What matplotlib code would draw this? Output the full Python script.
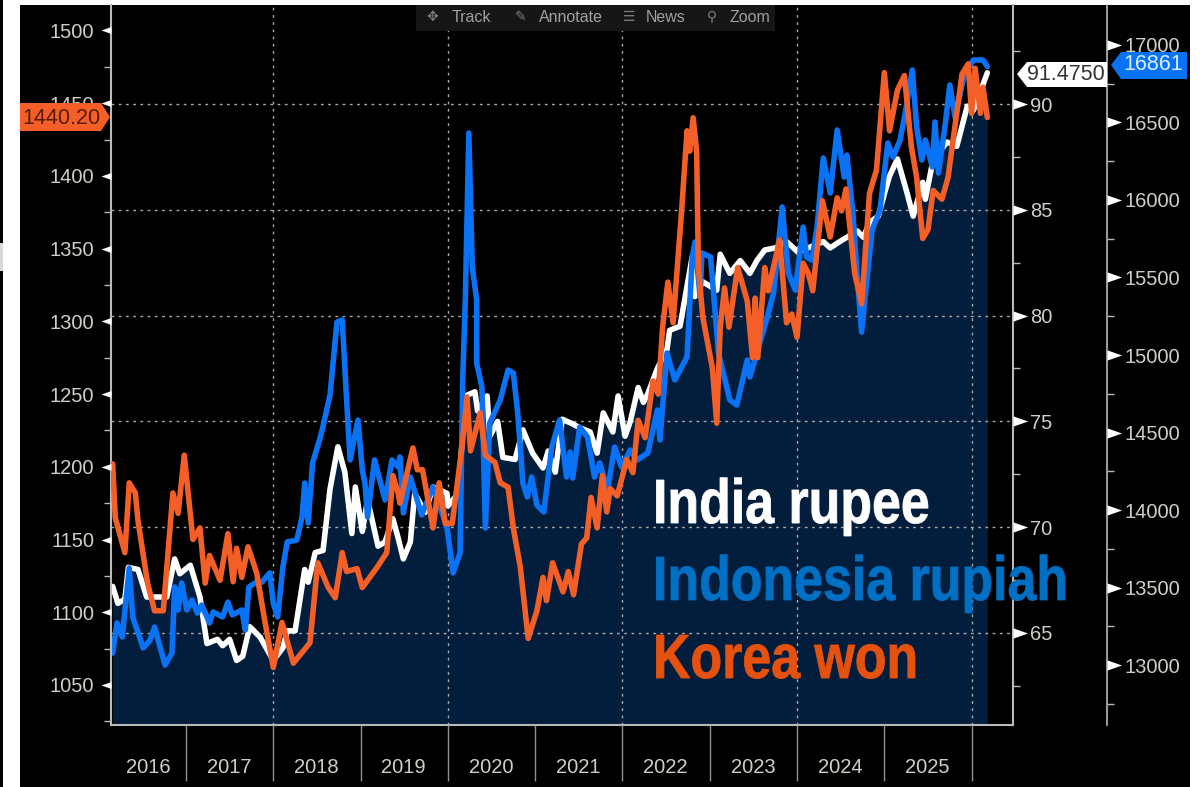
import numpy as np
import matplotlib
matplotlib.use("Agg")
import matplotlib.pyplot as plt
from matplotlib.patches import Polygon, Rectangle
from matplotlib.path import Path
from matplotlib.patheffects import AbstractPathEffect
from matplotlib.text import Text
from matplotlib.transforms import Affine2D, Bbox, blended_transform_factory

BASE_YEAR = 2016
korea_t = [.16,.19,.30,.35,.42,.45,.56,.64,.74,.85,.91,.98,1.08,1.16,1.22,1.27,1.39,1.48,1.54,1.58,1.64,1.71,1.81,1.90,2.00,2.10,2.23,2.42,2.51,2.63,2.71,2.79,2.84,2.96,3.02,3.19,3.30,3.37,3.43,3.45,3.60,3.65,3.71,3.83,3.90,3.97,4.05,4.16,4.22,4.26,4.37,4.43,4.54,4.60,4.69,4.75,4.83,4.92,5.02,5.09,5.13,5.20,5.32,5.38,5.44,5.53,5.59,5.64,5.71,5.77,5.82,5.86,5.94,6.05,6.12,6.18,6.26,6.35,6.41,6.46,6.52,6.58,6.68,6.74,6.77,6.81,6.85,6.87,6.92,7.03,7.08,7.12,7.17,7.22,7.32,7.43,7.49,7.52,7.55,7.63,7.67,7.80,7.88,7.94,8.00,8.07,8.13,8.18,8.29,8.38,8.46,8.51,8.56,8.66,8.74,8.83,8.91,9.00,9.06,9.15,9.23,9.31,9.37,9.44,9.50,9.56,9.66,9.73,9.89,9.96,10.00,10.04,10.10,10.13,10.18]
korea_won = [1202,1165,1141,1189,1182,1163,1120,1101,1101,1182,1168,1208,1150,1158,1120,1139,1122,1154,1121,1144,1124,1145,1127,1095,1062,1093,1065,1079,1134,1117,1110,1141,1128,1130,1117,1131,1141,1194,1182,1175,1213,1198,1198,1158,1189,1161,1161,1213,1248,1211,1237,1208,1203,1189,1186,1158,1131,1082,1101,1124,1108,1134,1114,1128,1112,1147,1151,1179,1158,1194,1169,1185,1180,1205,1196,1232,1220,1259,1250,1296,1327,1299,1378,1431,1417,1440,1417,1337,1303,1268,1230,1296,1323,1296,1337,1314,1275,1316,1275,1337,1321,1356,1299,1305,1289,1340,1333,1321,1383,1358,1385,1376,1391,1333,1312,1388,1404,1471,1431,1459,1469,1420,1399,1357,1363,1390,1384,1399,1470,1477,1443,1474,1443,1461,1440.2]

indo_t = [.16,.21,.27,.35,.39,.51,.59,.64,.69,.76,.84,.87,.91,.95,1.01,1.07,1.13,1.18,1.27,1.31,1.42,1.48,1.53,1.64,1.68,1.72,1.79,1.87,1.96,2.00,2.05,2.11,2.16,2.27,2.33,2.36,2.40,2.45,2.53,2.56,2.65,2.73,2.79,2.84,2.88,2.97,3.02,3.05,3.08,3.16,3.28,3.36,3.43,3.45,3.49,3.57,3.70,3.83,3.99,4.06,4.14,4.17,4.20,4.24,4.28,4.33,4.33,4.39,4.43,4.48,4.60,4.69,4.75,4.80,4.86,4.91,4.96,5.02,5.10,5.19,5.28,5.36,5.40,5.43,5.51,5.60,5.68,5.74,5.83,5.91,5.99,6.09,6.17,6.29,6.40,6.43,6.51,6.60,6.74,6.80,6.83,6.89,6.91,7.01,7.10,7.23,7.31,7.43,7.46,7.66,7.73,7.83,7.90,7.98,8.07,8.11,8.17,8.23,8.30,8.38,8.46,8.54,8.57,8.64,8.69,8.74,8.80,8.86,8.95,9.04,9.10,9.18,9.24,9.32,9.37,9.43,9.47,9.55,9.58,9.62,9.70,9.75,9.81,9.92,10.02,10.13,10.18]
indonesia_rupiah = [13077,13271,13181,13626,13310,13110,13161,13245,13142,13000,13077,13503,13355,13529,13355,13419,13335,13387,13271,13342,13310,13406,13323,13355,13226,13503,13529,13535,13594,13400,13310,13632,13794,13806,13955,14174,13916,14303,14452,14516,14742,15213,15226,14710,14323,14580,14258,14174,13955,14323,14065,14323,14277,14342,13981,14213,13968,14148,13890,13594,13723,14839,15355,16432,15568,15355,14948,14794,13884,14561,14710,14903,14884,14626,14174,14084,14213,14032,13987,14406,14581,14213,14374,14206,14535,14471,14213,14303,14129,14406,14277,14387,14323,14368,14645,14452,15013,14839,14987,15632,15729,15374,15658,15632,15013,14710,14677,14968,14858,15245,15400,15955,15529,15419,15826,15632,15613,15826,16271,16045,16452,16148,16290,15916,15503,15148,15484,15806,15935,16368,16277,16387,16561,16839,16471,16258,16387,16213,16503,16174,16497,16742,16535,16819,16903,16903,16861]

india_t = [.16,.22,.30,.34,.45,.55,.78,.87,.93,1.05,1.16,1.24,1.36,1.42,1.50,1.58,1.65,1.73,1.85,2.00,2.11,2.16,2.25,2.36,2.40,2.48,2.57,2.65,2.74,2.82,2.90,2.94,3.02,3.08,3.20,3.28,3.37,3.43,3.49,3.57,3.62,3.74,3.83,3.99,4.00,4.12,4.20,4.31,4.34,4.45,4.48,4.57,4.63,4.77,4.86,4.97,5.09,5.15,5.23,5.31,5.42,5.51,5.63,5.71,5.78,5.89,5.95,6.03,6.09,6.18,6.24,6.29,6.40,6.51,6.54,6.66,6.74,6.80,6.83,6.92,7.08,7.12,7.23,7.35,7.46,7.54,7.63,7.75,7.88,8.01,8.30,8.38,8.49,8.69,8.76,8.83,8.93,9.01,9.06,9.15,9.26,9.33,9.44,9.47,9.56,9.72,9.83,9.95,10.02,10.18]
india_rupee = [67.2,66.4,66.6,68.1,68.0,66.7,66.7,68.5,67.8,68.2,66.7,64.5,64.7,64.4,64.7,63.7,63.9,65.3,64.8,63.7,64.3,65.1,65.1,68.0,67.4,68.8,68.9,71.8,73.8,72.6,69.7,71.9,69.8,71.3,69.1,69.3,70.4,69.5,68.5,69.3,71.6,70.7,71.9,71.6,71.0,71.6,76.2,76.4,75.5,76.2,74.3,75.0,73.3,73.2,74.6,73.5,72.8,73.6,72.6,75.1,74.9,74.7,74.5,73.5,75.4,74.5,76.2,74.3,75.0,76.6,75.9,76.3,77.5,78.4,79.3,79.5,81.4,82.8,80.9,81.6,81.2,82.9,82.0,82.6,82.0,82.6,83.1,83.2,83.5,83.0,83.5,83.2,83.5,84.0,83.7,84.4,84.7,85.9,86.6,87.4,85.8,84.7,86.3,85.5,87.4,88.2,88.0,89.9,89.7,91.475]

year_labels = ["2016","2017","2018","2019","2020","2021","2022","2023","2024","2025"]
year_bounds = [2017,2018,2019,2020,2021,2022,2023,2024,2025,2026]
left_ticks = [1050,1100,1150,1200,1250,1300,1350,1400,1450,1500]
left_minor = [1025,1075,1125,1175,1225,1275,1325,1375,1425,1475]
mid_ticks = [65,70,75,80,85,90]
mid_minor = [62.5,67.5,72.5,77.5,82.5,87.5,92.5]
right_ticks = [13000,13500,14000,14500,15000,15500,16000,16500,17000]
right_minor = [12750,13250,13750,14250,14750,15250,15750,16250,16750]
toolbar_items = [("\u2725","Track"),("\u270e","Annotate"),("\u2630","News"),("\u26b2","Zoom")]
series_names = ["India rupee","Indonesia rupiah","Korea won"]

W, H = 1200, 787
plt.rcParams["font.family"] = ["Liberation Sans", "DejaVu Sans"]
fig = plt.figure(figsize=(W/100, H/100), dpi=100, facecolor="white")

bg = fig.add_axes([0,0,1,1], zorder=0); bg.set_axis_off()
bg.set_xlim(0,W); bg.set_ylim(H,0)
bg.add_patch(Rectangle((20,5),1170,782,fc="black",ec="none"))
bg.add_patch(Rectangle((0,0),3,787,fc="black",ec="none"))
bg.add_patch(Rectangle((0,243),3,28,fc="#d8d8d8",ec="none"))

rect = [111/W, 1-725/H, (1013-111)/W, 720/H]
SPINE = "#b9b9b9"; TXT = "#cfcfc7"; NAVY = "#031d3c"
ax_india = fig.add_axes(rect, zorder=1, facecolor="black")
ax_indo = fig.add_axes(rect, zorder=2, facecolor="none")
ax_korea = fig.add_axes(rect, zorder=3, facecolor="none")

xlim = (2016.141, 2026.474)
for a in (ax_india, ax_indo, ax_korea):
    a.set_xlim(*xlim)
    for s in a.spines.values():
        s.set_visible(False)
    a.set_xticks([])
ax_korea.set_ylim(1022.5, 1517.5)
ax_india.set_ylim(60.65, 94.68)
ax_indo.set_ylim(12613, 17258)

t_ind = BASE_YEAR + np.array(india_t)
v_ind = np.array(india_rupee)
ax_india.fill_between(t_ind, 60, np.minimum(v_ind, 89.6), color=NAVY, lw=0, zorder=1)
ax_india.set_axisbelow(False)
for v in mid_ticks:
    ax_india.axhline(v, color="#a8a8a8", lw=1, ls=(0,(2,3.2)), zorder=2)
for y in [2018,2020,2022,2024,2026]:
    ax_india.axvline(y, color="#a8a8a8", lw=1, ls=(0,(2,3.2)), zorder=2)

kw = dict(lw=4.0, solid_joinstyle="round", solid_capstyle="round")
ax_india.plot(t_ind, v_ind, color="#ffffff", zorder=3, **kw)
ax_indo.plot(BASE_YEAR+np.array(indo_t), indonesia_rupiah, color="#0a73f5", zorder=3, **kw)
ax_korea.plot(BASE_YEAR+np.array(korea_t), korea_won, color="#f45f27", zorder=3, **kw)

for a, side, w in [(ax_korea,"left",1.5),(ax_india,"bottom",1.5),(ax_india,"right",1.5),(ax_indo,"right",1.2)]:
    a.spines[side].set_visible(True); a.spines[side].set_color(SPINE); a.spines[side].set_linewidth(w)
ax_indo.spines["right"].set_position(("outward", 94*72/100))

LS = 14.5
ax_korea.yaxis.tick_left()
ax_korea.set_yticks(left_ticks); ax_korea.set_yticks(left_minor, minor=True)
ax_korea.tick_params(axis="y", which="major", length=10*.72, width=0, pad=5, labelsize=LS, labelcolor=TXT)
ax_korea.tick_params(axis="y", which="minor", length=5, width=1, color=SPINE)

ax_india.yaxis.tick_right()
ax_india.set_yticks(mid_ticks); ax_india.set_yticks(mid_minor, minor=True)
ax_india.tick_params(axis="y", which="major", length=15*.72, width=0, pad=1.5, labelsize=LS, labelcolor=TXT)
ax_india.tick_params(axis="y", which="minor", length=5, width=1, color=SPINE)

ax_indo.yaxis.tick_right()
ax_indo.set_yticks(right_ticks); ax_indo.set_yticks(right_minor, minor=True)
ax_indo.tick_params(axis="y", which="major", length=15*.72, width=0, pad=1.5, labelsize=LS, labelcolor=TXT)
ax_indo.tick_params(axis="y", which="minor", length=5, width=1, color=SPINE)

left_head = Path([(-10,0),(0,3.5),(0,-3.5),(-10,0)], closed=True)
right_head = Path([(10,0),(0,3.5),(0,-3.5),(10,0)], closed=True)
tr = blended_transform_factory(ax_korea.transAxes, ax_korea.transData)
ax_korea.plot(np.zeros(len(left_ticks)), left_ticks, ls="", marker=left_head, ms=14.4, mfc="white", mec="none", transform=tr, clip_on=False, zorder=6)
tr = blended_transform_factory(ax_india.transAxes, ax_india.transData)
ax_india.plot(np.ones(len(mid_ticks)), mid_ticks, ls="", marker=right_head, ms=21, mfc="white", mec="none", transform=tr, clip_on=False, zorder=6)
tr = blended_transform_factory(ax_indo.transAxes, ax_indo.transData)
ax_indo.plot(np.ones(len(right_ticks))*(1013-111+94)/902, right_ticks, ls="", marker=right_head, ms=21, mfc="white", mec="none", transform=tr, clip_on=False, zorder=6)

ax_india.set_xticks(year_bounds, [""]*len(year_bounds))
ax_india.tick_params(axis="x", length=40, width=1, color="#8f8f8f", pad=0)
edges = [xlim[0]] + year_bounds
for i, lab in enumerate(year_labels):
    ax_india.annotate(lab, xy=((edges[i]+edges[i+1])/2 - 0.005, 0), xycoords=("data","axes fraction"),
                      xytext=(0,-42.5*.72), textcoords="offset points", ha="center", va="center",
                      color=TXT, fontsize=LS)

ov = fig.add_axes([0,0,1,1], zorder=10, facecolor="none"); ov.set_axis_off()
ov.set_xlim(0,W); ov.set_ylim(H,0)

ov.add_patch(Polygon([(20,103),(101,103),(110,117),(101,131),(20,131)], fc="#f45f27", ec="none"))
ov.text(61, 118, "1440.20", ha="center", va="center", color="#5a1a05", fontsize=15.5)
ov.add_patch(Polygon([(1017,74),(1027,62),(1107,62),(1107,87),(1027,87)], fc="white", ec="none"))
ov.text(1066, 75, "91.4750", ha="center", va="center", color="#333333", fontsize=15.5)
ov.add_patch(Polygon([(1111,65),(1121,52),(1187,52),(1187,79),(1121,79)], fc="#0a73f5", ec="none"))
ov.text(1153, 65, "16861", ha="center", va="center", color="#d9ecff", fontsize=15.5)

ov.add_patch(Rectangle((416,5),359,26,fc="#161616",ec="none"))
for (ix, tx), (icon, label) in zip([(432,452),(521,539),(629,646),(712,730)], toolbar_items):
    ov.text(ix, 17, icon, ha="center", va="center", color="#7d7d7d", fontsize=10, family=["DejaVu Sans"])
    ov.text(tx, 17, label, ha="left", va="center", color="#a0a0a0", fontsize=11.5)

SQUEEZE = 0.83

class Squeeze(AbstractPathEffect):
    """Narrows a text horizontally around its own left edge, with a thin stroke for weight."""
    def __init__(self, ratio, stroke):
        super().__init__()
        self.ratio = ratio
        self.stroke = stroke
    def draw_path(self, renderer, gc, tpath, affine, rgbFace=None):
        x0 = self.anchor
        squeezed = affine + Affine2D().translate(-x0, 0).scale(self.ratio, 1).translate(x0, 0)
        gc2 = renderer.new_gc()
        gc2.copy_properties(gc)
        gc2.set_foreground(rgbFace)
        gc2.set_linewidth(self.stroke)
        renderer.draw_path(gc2, tpath, squeezed, rgbFace)
        gc2.restore()

class NarrowText(Text):
    """Text whose reported extent is that of its narrowed glyphs."""
    def get_window_extent(self, renderer=None, dpi=None):
        b = super().get_window_extent(renderer, dpi)
        return Bbox.from_extents(b.x0, b.y0, b.x0 + (b.x1 - b.x0)*SQUEEZE, b.y1)

for name, c, yb in zip(series_names, ["#ffffff","#0070c4","#e5520f"], [523,600,678]):
    t = NarrowText(653, yb, name, ha="left", va="baseline", color=c, fontsize=45, fontweight="bold")
    ov.add_artist(t)
    t.set_transform(ov.transData)
    e = Squeeze(SQUEEZE, 0.6)
    e.anchor = ov.transData.transform((653, yb))[0]
    t.set_path_effects([e])

fig.savefig("out.png", dpi=100, facecolor="white")
